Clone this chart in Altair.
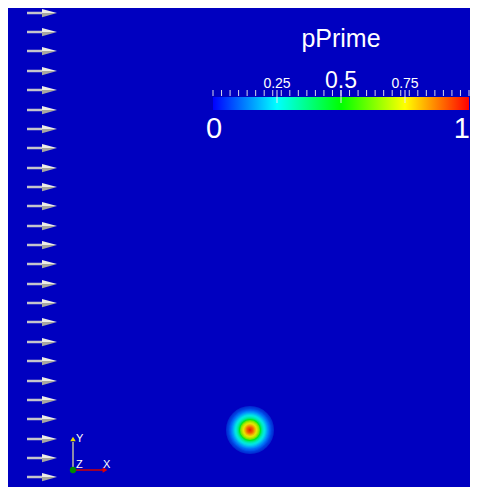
import altair as alt
import pandas as pd

# ---------------- data ----------------
W, H = 462, 479            # domain extent (plot units)
BG = "#0000c0"

# glyph (arrow) rows along the left inflow boundary
arrow_y = [474, 455, 436, 416, 397, 377, 358, 339, 319, 300, 281, 261, 242,
           223, 203, 184, 165, 145, 126, 106, 87, 68, 48, 29, 10]
arrow_x = 19
arrow_len = 30

# pPrime radial profile of the pulse (radius, value)
pulse_center = (242, 57)
ring_r = [24, 23, 22, 21, 20, 19, 18, 17, 16, 15, 14, 13, 12, 11, 10, 9, 8, 7, 6, 5, 4, 3, 2, 1]
ring_v = [0.02, 0.03, 0.04, 0.06, 0.08, 0.11, 0.14, 0.18, 0.22, 0.26, 0.31, 0.37,
          0.43, 0.49, 0.56, 0.62, 0.69, 0.75, 0.81, 0.86, 0.91, 0.95, 0.97, 0.99]

# colour bar
cbar_range = [0, 1]
minor_ticks = [i / 30 for i in range(31)]
major_ticks = [0.25, 0.5, 0.75]
small_labels = ["0.25", "0.75"]
small_label_v = [0.25, 0.75]
mid_label = "0.5"
end_labels = ["0", "1"]

rainbow_stops = ["#0000ff", "#00ffff", "#00ff00", "#ffff00", "#ff0000"]
pulse_range = ["#0000c0", "#00e6e6", "#00e600", "#e6e600", "#e60000"]

FONT = "Liberation Sans"

# ---------------- scales ----------------
xs = alt.Scale(domain=[0, W], nice=False, zero=False)
ys = alt.Scale(domain=[0, H], nice=False, zero=False)
bs = alt.Scale(domain=cbar_range, range=[205, 461], nice=False, zero=False)

# ---------------- arrows ----------------
arrows = pd.DataFrame({"x": [arrow_x] * len(arrow_y), "y": arrow_y,
                       "u": [arrow_len] * len(arrow_y)})
abase = alt.Chart(arrows).transform_calculate(
    xs="datum.x + 0.52*datum.u", xh="datum.x + 0.75*datum.u")
shaft = abase.mark_rule(color="#c4c4cc", strokeWidth=2.5).encode(
    x=alt.X("x:Q", scale=xs, axis=None), x2="xs:Q",
    y=alt.Y("y:Q", scale=ys, axis=None))
head_top = abase.mark_point(shape="M -1 -0.55 L 1 0 L -1 0 Z", filled=True,
                            size=225, color="#ececE6", opacity=1, strokeWidth=0).encode(
    x=alt.X("xh:Q", scale=xs, axis=None), y=alt.Y("y:Q", scale=ys, axis=None))
head_bot = abase.mark_point(shape="M -1 0 L 1 0 L -1 0.55 Z", filled=True,
                            size=225, color="#a8a8a0", opacity=1, strokeWidth=0).encode(
    x=alt.X("xh:Q", scale=xs, axis=None), y=alt.Y("y:Q", scale=ys, axis=None))

# ---------------- pulse ----------------
rings = pd.DataFrame({"cx": [pulse_center[0]] * len(ring_r),
                      "cy": [pulse_center[1]] * len(ring_r),
                      "r": ring_r, "v": ring_v})
pulse = alt.Chart(rings).mark_circle(opacity=1, strokeWidth=0).encode(
    x=alt.X("cx:Q", scale=xs, axis=None),
    y=alt.Y("cy:Q", scale=ys, axis=None),
    size=alt.Size("r:Q", scale=alt.Scale(type="pow", exponent=2, domain=[0, 25],
                                         range=[0, 2500]), legend=None),
    color=alt.Color("v:Q", scale=alt.Scale(domain=[0, 0.25, 0.5, 0.75, 1],
                                           range=pulse_range), legend=None),
    order=alt.Order("r:Q", sort="descending"))

# ---------------- colour bar ----------------
grad = alt.LinearGradient(
    gradient="linear", x1=0, x2=1, y1=0, y2=0,
    stops=[alt.GradientStop(color=c, offset=o)
           for c, o in zip(rainbow_stops, [0, 0.25, 0.5, 0.75, 1])])
bar = alt.Chart(pd.DataFrame({"a": [cbar_range[0]], "b": [cbar_range[1]]})).mark_rect(
    color=grad).encode(
    x=alt.X("a:Q", scale=bs, axis=None), x2="b:Q",
    y=alt.value(89), y2=alt.value(102))
minor = alt.Chart(pd.DataFrame({"t": minor_ticks})).mark_rule(
    color="#d8d8e8", strokeWidth=1).encode(
    x=alt.X("t:Q", scale=bs, axis=None), y=alt.value(82), y2=alt.value(88))
major = alt.Chart(pd.DataFrame({"t": major_ticks})).mark_rule(
    color="#e8e8f0", strokeWidth=1).encode(
    x=alt.X("t:Q", scale=bs, axis=None), y=alt.value(82), y2=alt.value(95))
lab_small = alt.Chart(pd.DataFrame({"v": small_label_v, "s": small_labels})).mark_text(
    font=FONT, fontSize=14, color="white", baseline="alphabetic").encode(
    x=alt.X("v:Q", scale=bs, axis=None), y=alt.value(80), text="s:N")
lab_mid = alt.Chart(pd.DataFrame({"v": [0.5], "s": [mid_label]})).mark_text(
    font=FONT, fontSize=23, color="white", baseline="alphabetic").encode(
    x=alt.X("v:Q", scale=bs, axis=None), y=alt.value(80), text="s:N")
lab_0 = alt.Chart(pd.DataFrame({"v": [cbar_range[0]], "s": [end_labels[0]]})).mark_text(
    font=FONT, fontSize=29, color="white", baseline="alphabetic", dx=1).encode(
    x=alt.X("v:Q", scale=bs, axis=None), y=alt.value(130), text="s:N")
lab_1 = alt.Chart(pd.DataFrame({"v": [cbar_range[1]], "s": [end_labels[1]]})).mark_text(
    font=FONT, fontSize=29, color="white", baseline="alphabetic", align="right",
    dx=1).encode(
    x=alt.X("v:Q", scale=bs, axis=None), y=alt.value(130), text="s:N")
title = alt.Chart(pd.DataFrame({"v": [0.5], "s": ["pPrime"]})).mark_text(
    font=FONT, fontSize=25, color="white", baseline="alphabetic").encode(
    x=alt.X("v:Q", scale=bs, axis=None), y=alt.value(39), text="s:N")

# ---------------- orientation triad ----------------
one = pd.DataFrame({"k": [0]})
t_yline = alt.Chart(one).mark_rule(color="#8c8ca8", strokeWidth=2).encode(
    x=alt.value(65), y=alt.value(434), y2=alt.value(462))
t_ytip = alt.Chart(one).mark_point(shape="triangle-up", filled=True, size=30,
                                   color="#e8e000", opacity=1).encode(
    x=alt.value(65), y=alt.value(431))
t_xline = alt.Chart(one).mark_rule(color="#d00000", strokeWidth=1.5).encode(
    x=alt.value(66), x2=alt.value(95), y=alt.value(462))
t_xtip = alt.Chart(one).mark_point(shape="triangle-right", filled=True, size=30,
                                   color="#e00000", opacity=1).encode(
    x=alt.value(97), y=alt.value(462))
t_z = alt.Chart(one).mark_circle(size=40, color="#008a00", opacity=1).encode(
    x=alt.value(65), y=alt.value(462))
t_lab = alt.Chart(pd.DataFrame({"s": ["Y", "Z", "X"], "px": [68, 68, 95],
                                "py": [431, 457, 457]})).mark_text(
    font=FONT, fontSize=11, color="white", align="left", baseline="middle").encode(
    x=alt.X("px:Q", scale=None), y=alt.Y("py:Q", scale=None), text="s:N")

chart = alt.layer(
    shaft, head_top, head_bot, pulse, bar, minor, major,
    lab_small, lab_mid, lab_0, lab_1, title,
    t_yline, t_ytip, t_xline, t_xtip, t_z, t_lab
).resolve_scale(x="independent", y="independent", color="independent",
                size="independent").properties(
    width=W, height=H, background=BG, padding=0,
    autosize=alt.AutoSizeParams(type="none")
).configure_view(strokeWidth=0, fill=BG)

chart.save("out.html", embed_options={"renderer": "svg", "actions": False})
